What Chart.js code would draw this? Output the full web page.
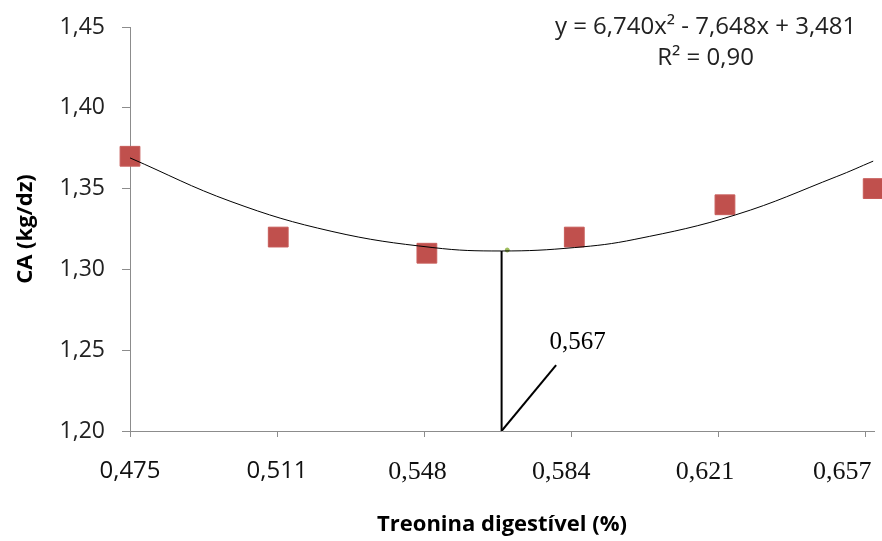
<!DOCTYPE html>
<html>
<head>
<meta charset="utf-8">
<script src="https://cdn.jsdelivr.net/npm/chart.js@4/dist/chart.umd.min.js"></script>
<style>
  body { margin: 0; background: #fff; }
  #wrap { width: 882px; height: 541px; }
</style>
</head>
<body>
<div id="wrap"><canvas id="caChart"></canvas></div>
<script>
// observed points (treonina digestível %, CA kg/dz)
const doseX = [0.475, 0.5117, 0.5485, 0.585, 0.6223, 0.659];
const caY = [1.37, 1.32, 1.31, 1.32, 1.34, 1.35];

// quadratic trend line
const trendX = [0.475, 0.500, 0.525, 0.550, 0.567, 0.585, 0.600, 0.625, 0.650, 0.659];
const trendY = [1.369, 1.342, 1.3235, 1.3135, 1.3114, 1.3135, 1.3186, 1.3338, 1.3575, 1.367];

// optimum marker and the pointer to its label
const optX = [0.567, 0.567];
const optY = [1.20, 1.3114];
const pointerX = [0.567, 0.5805];
const pointerY = [1.20, 1.2408];
const minDotX = [0.5684];
const minDotY = [1.312];

// axis ticks
const xTickValues = [0.475, 0.5114, 0.5478, 0.5842, 0.6206, 0.657];
const xTickLabels = ['0,475', '0,511', '0,548  ', '0,584   ', '0,621    ', '0,657       '];
const yTickLabels = ['1,20', '1,25', '1,30', '1,35', '1,40', '1,45'];

const eqLines = ['y = 6,740x\u00b2 - 7,648x + 3,481', 'R\u00b2 = 0,90'];
const optLabel = '0,567';

const toXY = (xs, ys) => xs.map((x, i) => ({ x: x, y: ys[i] }));
const axisGray = '#8c8c8c';
const sans = '"Open Sans", sans-serif';
const serif = '"Liberation Serif", "Times New Roman", serif';

const textPlugin = {
    id: 'textPlugin',
    afterDatasetsDraw(chart) {
        const { ctx, scales: { x, y } } = chart;
        ctx.save();
        ctx.fillStyle = '#222';
        ctx.textAlign = 'center';
        ctx.textBaseline = 'middle';
        ctx.font = '24px ' + sans;
        ctx.fillText(eqLines[0], x.getPixelForValue(0.6175), y.getPixelForValue(1.45));
        ctx.fillText(eqLines[1], x.getPixelForValue(0.6175), y.getPixelForValue(1.4305));
        ctx.fillStyle = '#000';
        ctx.font = '25px ' + serif;
        ctx.fillText(optLabel, x.getPixelForValue(0.5858), y.getPixelForValue(1.2545));
        ctx.restore();
    }
};

new Chart(document.getElementById('caChart').getContext('2d'), {
    type: 'scatter',
    data: {
        datasets: [
            {
                label: 'Tendência',
                data: toXY(trendX, trendY),
                showLine: true,
                borderColor: '#000',
                borderWidth: 1,
                tension: 0.4,
                pointRadius: 0
            },
            {
                label: 'Ótimo',
                data: toXY(optX, optY),
                showLine: true,
                borderColor: '#000',
                borderWidth: 2,
                pointRadius: 0
            },
            {
                label: 'Seta',
                data: toXY(pointerX, pointerY),
                showLine: true,
                borderColor: '#000',
                borderWidth: 2,
                pointRadius: 0
            },
            {
                label: 'Mínimo',
                data: toXY(minDotX, minDotY),
                pointRadius: 2,
                backgroundColor: '#9bbb59',
                borderColor: '#9bbb59'
            },
            {
                label: 'CA',
                data: toXY(doseX, caY),
                clip: false,
                pointStyle: 'rect',
                pointRadius: 14,
                backgroundColor: '#c0504d',
                borderColor: '#c75c59',
                borderWidth: 1
            }
        ]
    },
    options: {
        responsive: true,
        maintainAspectRatio: false,
        animation: false,
        layout: { autoPadding: false, padding: { top: 27, right: 8, left: 0, bottom: 0 } },
        plugins: {
            legend: { display: false },
            tooltip: { enabled: false }
        },
        scales: {
            x: {
                type: 'linear',
                min: 0.475,
                max: 0.6592,
                afterBuildTicks: scale => {
                    scale.ticks = xTickValues.map(v => ({ value: v }));
                },
                afterFit: scale => {
                    scale.height = 110;
                    scale.paddingLeft = 0;
                    scale.paddingRight = 0;
                },
                ticks: {
                    autoSkip: false,
                    maxRotation: 0,
                    padding: 20,
                    color: '#111',
                    callback: (value, index) => xTickLabels[index],
                    font: ctx => ctx.index < 2 ? { family: sans, size: 24 } : { family: serif, size: 26 }
                },
                grid: { drawOnChartArea: false, tickLength: 6, color: axisGray },
                border: { color: axisGray },
                title: {
                    display: true,
                    text: 'Treonina digestível (%)',
                    color: '#000',
                    font: { family: sans, size: 22, weight: 'bold' },
                    padding: { top: 0, bottom: 3 }
                }
            },
            y: {
                min: 1.2,
                max: 1.45,
                afterFit: scale => {
                    scale.width = 130;
                    scale.paddingTop = 0;
                    scale.paddingBottom = 0;
                },
                ticks: {
                    stepSize: 0.05,
                    padding: 17,
                    color: '#222',
                    callback: (value, index) => yTickLabels[index],
                    font: { family: sans, size: 23 }
                },
                grid: { drawOnChartArea: false, tickLength: 8, color: axisGray },
                border: { color: axisGray },
                title: {
                    display: true,
                    text: 'CA (kg/dz)',
                    color: '#000',
                    font: { family: sans, size: 22, weight: 'bold' },
                    padding: { top: 13, bottom: 0 }
                }
            }
        }
    },
    plugins: [textPlugin]
});
</script>
</body>
</html>
